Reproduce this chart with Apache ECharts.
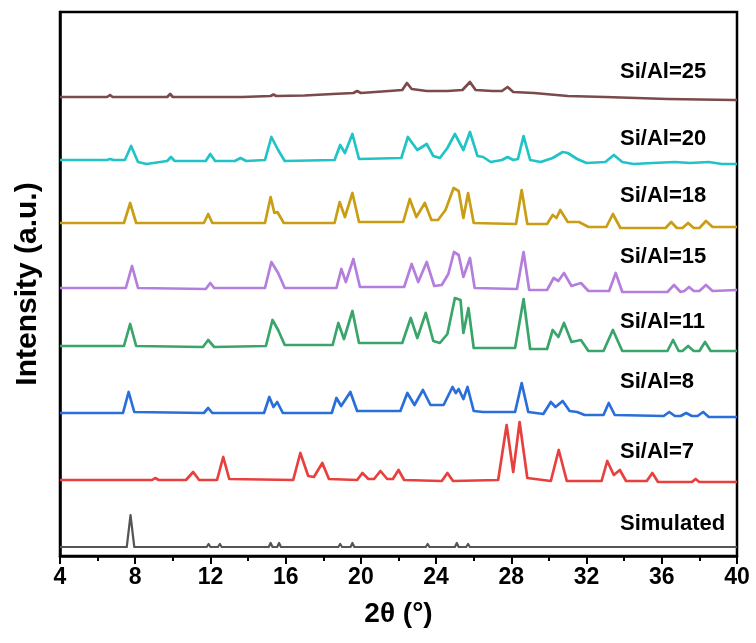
<!DOCTYPE html>
<html>
<head>
<meta charset="utf-8">
<script src="https://cdn.jsdelivr.net/npm/echarts@6/dist/echarts.min.js"></script>
<style>
  html, body { margin: 0; padding: 0; background: #fff; }
  #chart { width: 756px; height: 643px; }
</style>
</head>
<body>
<div id="chart"></div>
<script>
  // sample names, colors and stacking offsets (a.u.)
  const names = ['Simulated', 'Si/Al=7', 'Si/Al=8', 'Si/Al=11', 'Si/Al=15', 'Si/Al=18', 'Si/Al=20', 'Si/Al=25'];
  const colors = ['#555555', '#e8403f', '#2a6fd9', '#3aa56a', '#b47fdc', '#c99d14', '#22c3c6', '#7b4a4a'];
  const offsets = [9, 76, 143, 210, 268, 333, 396, 459];

  // [2theta, intensity]
  const simulated = [[4,0],[7.55,0],[7.75,32],[7.95,0],[9.3,0],[9.4,1],[9.5,0],[11.8,0],[11.9,3],[12.0,0],[12.4,0],[12.5,3],[12.6,0],
    [15.1,0],[15.2,4],[15.3,0],[15.55,0],[15.65,4],[15.75,0],[18.8,0],[18.9,3],[19.0,0],[19.45,0],[19.55,4],[19.65,0],
    [22.6,0],[22.7,2],[22.8,0],[23.45,0],[23.55,3],[23.65,0],[25.0,0],[25.1,4],[25.2,0],[25.6,0],[25.7,3],[25.8,0],
    [28.5,0],[28.6,2],[28.7,0],[30.2,0],[30.3,1.5],[30.4,0],[30.6,0],[30.7,1.5],[30.8,0],[31.7,0],[31.8,1],[31.9,0],
    [33.3,0],[33.4,1.5],[33.5,0],[33.8,0],[33.9,1],[34.0,0],[38.4,0],[38.5,1],[38.6,0],[40,0]];
  const siAl7 = [[4,0],[8.9,0],[9.06,2],[9.25,0],[10.7,0],[11.08,8],[11.4,0],[12.35,0],[12.68,23],[13.0,1],[16.4,0],[16.78,27],
    [17.2,4],[17.5,3],[17.95,17],[18.3,1],[19.8,0],[20.08,7],[20.4,1],[20.7,1],[21.04,9],[21.4,1],[21.7,1],[22.0,10],[22.3,0],
    [24.3,-1],[24.6,7],[24.9,-1],[27.3,0],[27.75,55],[28.1,8],[28.44,58],[28.85,2],[30.1,-1],[30.52,30],[30.95,-1],
    [32.8,-1],[33.1,19],[33.45,5],[33.77,10],[34.1,-1],[35.2,-1],[35.5,7],[35.8,-2],[37.6,-2],[37.8,1],[38.0,-2],[40,-2]];
  const siAl8 = [[4,0],[7.35,0],[7.65,21],[7.95,1],[11.65,0],[11.88,5],[12.1,0],[14.85,0],[15.13,16],[15.35,6],[15.55,11],[15.85,0],
    [18.45,0],[18.7,15],[18.95,7],[19.44,21],[19.8,2],[22.1,2],[22.47,20],[22.85,8],[23.3,23],[23.7,8],[24.4,8],[24.87,26],
    [25.05,20],[25.2,24],[25.45,14],[25.67,26],[26.0,2],[26.5,1],[28.2,1],[28.55,30],[28.9,1],[29.7,-1],[30.1,11],[30.35,6],
    [30.73,12],[31.1,2],[31.5,1],[31.9,-2],[32.9,-2],[33.18,10],[33.5,-2],[36.1,-3],[36.4,1],[36.7,-3],[37.0,-3],[37.3,0],
    [37.6,-3],[37.9,-3],[38.2,1],[38.5,-4],[40,-4]];
  const siAl11 = [[4,0],[7.4,0],[7.73,22],[8.05,0],[11.6,-1],[11.88,6],[12.2,-1],[14.95,0],[15.3,26],[15.6,16],[15.95,1],
    [18.5,1],[18.8,23],[19.1,7],[19.55,35],[19.9,3],[22.2,3],[22.65,28],[23.0,8],[23.45,33],[23.85,5],[24.2,3],[24.6,12],
    [25.0,48],[25.3,46],[25.45,13],[25.72,38],[26.0,-2],[28.2,-2],[28.65,47],[29.0,-3],[29.9,-3],[30.2,16],[30.5,9],[30.8,23],
    [31.2,4],[31.7,6],[32.1,-5],[32.9,-5],[33.4,16],[33.9,-5],[36.3,-5],[36.6,6],[36.9,-5],[37.1,-5],[37.4,0],[37.7,-5],
    [38.0,-5],[38.3,4],[38.6,-5],[40,-5]];
  const siAl15 = [[4,0],[7.5,0],[7.83,22],[8.15,0],[11.75,-1],[11.99,5],[12.2,0],[12.4,0],[12.5,2],[12.65,0],[14.9,0],[15.24,26],
    [15.6,15],[15.95,0],[18.7,0],[18.96,19],[19.2,6],[19.6,29],[19.95,1],[22.3,1],[22.7,24],[23.05,6],[23.5,26],[23.9,2],
    [24.3,3],[24.65,14],[24.95,36],[25.2,33],[25.45,11],[25.8,30],[26.05,0],[28.3,-1],[28.65,36],[28.95,-2],[29.9,-2],
    [30.25,10],[30.5,7],[30.8,15],[31.2,2],[31.7,5],[32.1,-3],[33.2,-3],[33.55,15],[33.9,-4],[36.3,-4],[36.65,3],[37.0,-4],
    [37.2,-3],[37.45,1],[37.7,-3],[38.0,-3],[38.35,3],[38.7,-3],[40,-2]];
  const siAl18 = [[4,0],[7.4,0],[7.73,20],[8.05,0],[11.65,0],[11.88,9],[12.1,0],[14.9,0],[15.2,26],[15.4,10],[15.56,11],[15.9,0],
    [18.6,0],[18.87,21],[19.15,6],[19.55,30],[19.9,1],[22.25,1],[22.6,24],[22.95,6],[23.4,20],[23.75,3],[24.1,3],[24.5,13],
    [24.93,35],[25.2,32],[25.45,5],[25.7,30],[26.0,0],[28.25,-1],[28.55,33],[28.85,-1],[29.9,-1],[30.2,8],[30.4,5],[30.6,13],
    [31.0,1],[31.6,1],[32.1,-4],[33.05,-4],[33.4,9],[33.8,-5],[36.2,-5],[36.5,1],[36.8,-5],[37.1,-5],[37.4,0],[37.7,-5],
    [38.0,-5],[38.35,2],[38.7,-4],[40,-4]];
  const siAl20 = [[4,0],[6.5,0],[6.66,1],[6.85,0],[7.45,0],[7.78,14],[8.15,-2],[8.6,-4],[9.7,-1],[9.9,3],[10.1,-1],[11.75,-1],
    [11.99,6],[12.25,-1],[13.3,-1],[13.6,2],[13.9,-1],[14.9,0],[15.24,23],[15.6,10],[15.95,-1],[18.6,0],[18.9,15],[19.15,7],
    [19.55,26],[19.9,1],[22.15,2],[22.5,23],[23.0,10],[23.5,16],[23.85,4],[24.2,2],[24.6,12],[25.0,26],[25.45,10],[25.8,28],
    [26.2,4],[26.5,3],[26.9,-2],[27.5,0],[27.8,3],[28.1,0],[28.35,1],[28.65,24],[29.0,0],[29.56,-2],[30.2,2],[30.73,8],
    [31.0,7],[31.5,1],[32.0,-3],[33.0,-2],[33.45,5],[33.9,-2],[34.5,-4],[35.5,-3],[36.7,-2],[37.5,-3],[38.5,-2],[39.2,-4],[40,-4]];
  const siAl25 = [[4,0],[6.5,0],[6.66,2],[6.8,0],[9.7,0],[9.86,3],[10.0,0],[13.5,0],[13.6,2],[13.7,0],[15.2,1],[15.35,2.5],
    [15.5,1],[17.0,1.5],[18.5,3],[19.6,4],[19.8,6],[20.0,4],[21.5,6],[22.2,7],[22.45,14],[22.7,8],[23.5,6],[24.6,6],[25.4,7],
    [25.8,15],[26.1,7],[27.0,6],[27.5,6],[27.8,10],[28.1,5],[29.2,4],[31.0,1],[33.0,0],[36.3,-2],[39.8,-3],[40,-3]];

  const patterns = [simulated, siAl7, siAl8, siAl11, siAl15, siAl18, siAl20, siAl25];
  // label centre heights (px) next to each trace
  const labelY = [525, 453, 383, 323, 258, 197, 140, 73];

  const chart = echarts.init(document.getElementById('chart'));

  const series = patterns.map((p, i) => ({
    name: names[i],
    type: 'line',
    showSymbol: false,
    symbol: 'none',
    z: 10 - i,
    lineStyle: { color: colors[i], width: i === 0 ? 2.2 : 2.7, join: 'round' },
    data: p.map(d => [d[0], d[1] + offsets[i]])
  }));

  const option = {
    animation: false,
    backgroundColor: '#fff',
    grid: {
      left: 60, right: 19, top: 12, bottom: 87,
      show: true, borderColor: '#000', borderWidth: 2.5
    },
    xAxis: {
      type: 'value',
      min: 4, max: 40, interval: 4,
      name: '2θ (°)',
      nameLocation: 'middle',
      nameGap: 44,
      nameTextStyle: { fontFamily: 'Liberation Sans, Arial, sans-serif', fontWeight: 'bold', fontSize: 28, color: '#000' },
      axisLine: { show: true, onZero: false, lineStyle: { color: '#000', width: 2.5 } },
      axisTick: { show: true, inside: false, length: 8, lineStyle: { color: '#000', width: 2 } },
      minorTick: { show: true, splitNumber: 2, length: 5, lineStyle: { color: '#000', width: 2 } },
      axisLabel: { margin: 10, fontFamily: 'Liberation Sans, Arial, sans-serif', fontWeight: 'bold', fontSize: 23, color: '#000' },
      splitLine: { show: false }
    },
    yAxis: {
      type: 'value',
      min: 0, max: 544,
      name: 'Intensity (a.u.)',
      nameLocation: 'middle',
      nameGap: 17,
      nameTextStyle: { fontFamily: 'Liberation Sans, Arial, sans-serif', fontWeight: 'bold', fontSize: 30, color: '#000' },
      axisLine: { show: true, lineStyle: { color: '#000', width: 2.5 } },
      axisTick: { show: false },
      axisLabel: { show: false },
      splitLine: { show: false }
    },
    graphic: names.map((n, i) => ({
      type: 'text',
      left: 620,
      top: labelY[i] - 12,
      z: 100,
      style: {
        text: n,
        fill: '#000',
        font: 'bold 22px "Liberation Sans", Arial, sans-serif'
      }
    })),
    series: series
  };

  chart.setOption(option);
</script>
</body>
</html>
